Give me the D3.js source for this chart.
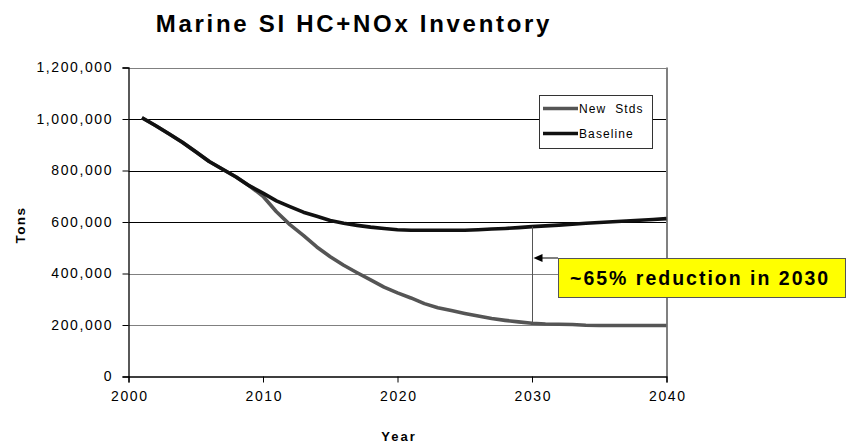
<!DOCTYPE html>
<html>
<head>
<meta charset="utf-8">
<script src="https://cdn.jsdelivr.net/npm/d3@7"></script>
<style>
html,body{margin:0;padding:0;background:#fff;}
svg{display:block;font-family:"Liberation Sans",Arial,Helvetica,sans-serif;}
</style>
</head>
<body>
<svg id="chart" width="848" height="445"></svg>
<script>
const years = d3.range(2001, 2041);
const baseline = [1005000,975000,943000,910000,873000,835000,805000,775000,740000,712000,
  682000,660000,638000,622000,606000,595000,587000,580000,575000,570000,
  568000,568000,568000,568000,568000,570000,573000,575000,578000,582000,
  585000,588000,591000,595000,598000,601000,604000,607000,610000,613000];
const newStds = [1005000,975000,943000,910000,873000,835000,805000,775000,740000,700000,
  640000,590000,548000,503000,465000,432000,403000,375000,347000,325000,
  305000,283000,267000,256000,245000,235000,225000,218000,212000,207000,
  204000,203000,202000,199000,198000,198000,198000,198000,198000,198000];
const seriesNames = ["New Stds", "Baseline"];
const yTicks = [0,200000,400000,600000,800000,1000000,1200000];
const xTicks = [2000,2010,2020,2030,2040];
const title = "Marine SI HC+NOx Inventory";
const annotationText = "~65% reduction in 2030";
const annotationYear = 2030;

const svg = d3.select("#chart");
const L = 128.5, R = 666.5, T = 67.5, B = 376.5;
const x = d3.scaleLinear().domain([2000, 2040]).range([L, R]);
const y = d3.scaleLinear().domain([0, 1200000]).range([B, T]);

// title
svg.append("text").attr("x", 354).attr("y", 32).attr("text-anchor", "middle")
  .attr("font-size", 24).attr("font-weight", "bold").attr("letter-spacing", 2.7)
  .attr("fill", "#000").text(title);

// gridlines
const darkGrid = new Set([600000, 800000, 1000000]);
svg.append("g").selectAll("line").data(yTicks.filter(d => d > 0)).join("line")
  .attr("x1", L).attr("x2", R)
  .attr("y1", d => Math.round(y(d)) + 0.5).attr("y2", d => Math.round(y(d)) + 0.5)
  .attr("stroke", d => darkGrid.has(d) ? "#000" : "#808080").attr("stroke-width", 1);
// right border
svg.append("line").attr("x1", R + 0.5).attr("x2", R + 0.5).attr("y1", T).attr("y2", B)
  .attr("stroke", "#808080").attr("stroke-width", 2);

// axes
const fmt = d3.format(",");
const yAxis = svg.append("g").attr("transform", `translate(${L},0)`)
  .call(d3.axisLeft(y).tickValues(yTicks).tickFormat(fmt).tickSize(6).tickPadding(11));
const xAxis = svg.append("g").attr("transform", `translate(0,${B})`)
  .call(d3.axisBottom(x).tickValues(xTicks).tickFormat(d3.format("d")).tickSize(6).tickPadding(9));
[yAxis, xAxis].forEach(g => {
  g.select(".domain").attr("stroke", "#000").attr("stroke-width", 1.3);
  g.selectAll(".tick line").attr("stroke", "#000");
  g.selectAll("text").attr("font-size", 14).attr("fill", "#000")
    .attr("font-family", "'Liberation Sans',Arial,sans-serif").attr("letter-spacing", 1.6);
});
yAxis.selectAll("text").attr("dx", 1.6);
xAxis.selectAll("text").attr("dx", 0.8);

// axis titles
svg.append("text").attr("x", 399).attr("y", 441).attr("text-anchor", "middle")
  .attr("font-size", 13).attr("font-weight", "bold").attr("letter-spacing", 2).text("Year");
svg.append("text").attr("transform", "translate(25,225) rotate(-90)").attr("text-anchor", "middle")
  .attr("font-size", 13.5).attr("font-weight", "bold").attr("letter-spacing", 1.4).text("Tons");

// lines
const line = d3.line().x((d, i) => x(years[i])).y(d => y(d));
svg.append("path").datum(newStds).attr("d", line).attr("fill", "none")
  .attr("stroke", "#555").attr("stroke-width", 3.6).attr("stroke-linejoin", "round");
svg.append("path").datum(baseline).attr("d", line).attr("fill", "none")
  .attr("stroke", "#111").attr("stroke-width", 3.6).attr("stroke-linejoin", "round");

// annotation
const ai = years.indexOf(annotationYear);
const ax = x(annotationYear) + 0.5;
svg.append("line").attr("x1", ax).attr("x2", ax).attr("y1", y(baseline[ai])).attr("y2", y(newStds[ai]))
  .attr("stroke", "#555").attr("stroke-width", 1);
const boxX = 558, boxY = 258, boxW = 287, boxH = 39;
svg.append("line").attr("x1", boxX).attr("x2", ax + 8).attr("y1", boxY).attr("y2", boxY)
  .attr("stroke", "#000").attr("stroke-width", 1);
svg.append("path").attr("d", `M${ax + 1},${boxY} L${ax + 10},${boxY - 4} L${ax + 10},${boxY + 4} Z`).attr("fill", "#000");
svg.append("rect").attr("x", boxX + 0.5).attr("y", boxY + 0.5).attr("width", boxW).attr("height", boxH)
  .attr("fill", "#ffff00").attr("stroke", "#555").attr("stroke-width", 1);
svg.append("text").attr("x", boxX + 12).attr("y", boxY + 27).attr("font-size", 19.5)
  .attr("font-weight", "bold").attr("letter-spacing", 2.0).text(annotationText);

// legend
const lg = svg.append("g");
lg.append("rect").attr("x", 539.5).attr("y", 95.5).attr("width", 113).attr("height", 53)
  .attr("fill", "#fff").attr("stroke", "#333").attr("stroke-width", 1);
const legColors = ["#555", "#111"];
seriesNames.forEach((n, i) => {
  const ly = 108.5 + i * 25;
  lg.append("line").attr("x1", 543).attr("x2", 578).attr("y1", ly).attr("y2", ly)
    .attr("stroke", legColors[i]).attr("stroke-width", 3.6);
  lg.append("text").attr("x", 579).attr("y", ly + 4.5).attr("font-size", 12)
    .attr("letter-spacing", 1.1).style("white-space", "pre")
    .text(n === "New Stds" ? "New  Stds" : n);
});
</script>
</body>
</html>
